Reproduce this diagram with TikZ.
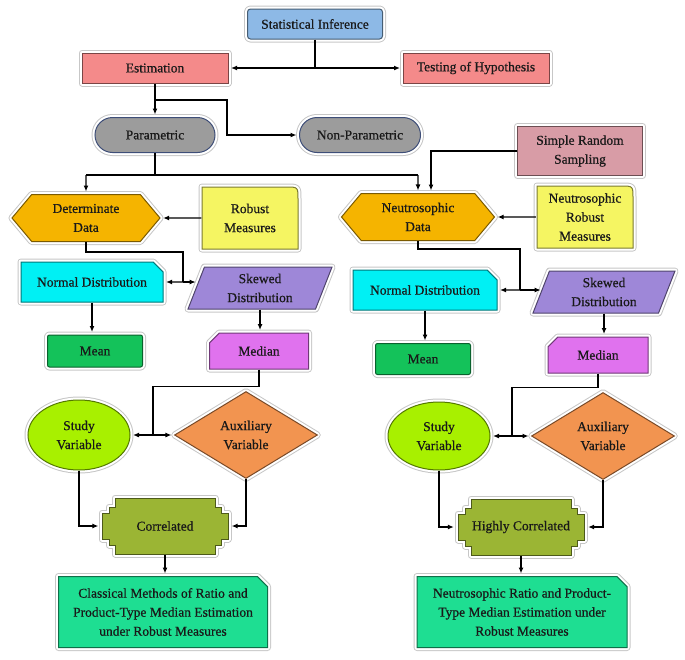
\documentclass[tikz,border=0pt]{standalone}
\usepackage{fontspec}
\setmainfont{Liberation Serif}
\newfontfamily\boxfont[FakeBold=0.6]{Liberation Serif}
\usetikzlibrary{arrows.meta,shapes.geometric,shapes.misc,shapes.symbols,backgrounds}

\definecolor{statblue}{HTML}{8DB9E6}
\definecolor{estred}{HTML}{F48A8A}
\definecolor{paramgray}{HTML}{9C9C9C}
\definecolor{srspink}{HTML}{D89CA6}
\definecolor{dataorange}{HTML}{F5B400}
\definecolor{robyellow}{HTML}{F5F562}
\definecolor{normcyan}{HTML}{00F0F4}
\definecolor{skewpurple}{HTML}{9E87D8}
\definecolor{meangreen}{HTML}{14C25A}
\definecolor{medmagenta}{HTML}{E072EE}
\definecolor{studylime}{HTML}{A8F000}
\definecolor{auxorange}{HTML}{F29450}
\definecolor{corrolive}{HTML}{9BB534}
\definecolor{endteal}{HTML}{1EDE92}
\definecolor{slateline}{HTML}{3E4E78}

\begin{document}
\begin{tikzpicture}[x=1pt,y=-1pt,>={Latex[length=6pt,width=5pt]},line width=1.3pt,
    every node/.style={font=\boxfont\fontsize{13.5}{19}\selectfont,align=center,text=black!90},
    halo/.style={preaction={draw=black!22,line width=7pt,line join=round},
                 preaction={draw=white,line width=5pt,line join=round}},
    box/.style={halo,draw=#1!50!black,fill=#1,line width=1pt,minimum height=30pt,inner sep=2pt},
    snip/.style={box=#1,chamfered rectangle,chamfered rectangle angle=45,chamfered rectangle xsep=7pt},
    hexa/.style={box=dataorange,signal,signal to=west and east,signal pointer angle=100,
                 minimum height=47pt,inner sep=1pt},
    slant/.style={box=skewpurple,trapezium,trapezium left angle=60,trapezium right angle=120,
                  trapezium stretches body,minimum height=42pt,inner sep=0pt},
    stadium/.style={box=paramgray,draw=slateline,rounded rectangle,minimum height=35pt},
    plain/.style={inner sep=0pt},
    link/.style={->,shorten >=2.5pt}]

    \path[use as bounding box] (0,0) rectangle (685,659);

    % top part
    \node[box=statblue,rounded corners=3pt,minimum width=135pt] (stat) at (315,24) {Statistical Inference};
    \node[box=estred,minimum width=146pt] (est) at (155,68) {Estimation};
    \node[box=estred,minimum width=146pt] (test) at (476,68) {Testing of Hypothesis};
    \node[stadium,minimum width=124pt] (param) at (155,135) {Parametric};
    \node[stadium,minimum width=125pt] (nonparam) at (360,135) {Non-Parametric};
    \node[box=srspink,minimum width=125pt,minimum height=49pt] (srs) at (580,151) {Simple Random\\Sampling};

    % left branch
    \node[hexa,minimum width=148pt] (detdata) at (86,218) {Determinate\\Data};
    \node[plain,minimum width=96pt,minimum height=62pt] (rob) at (250,218) {Robust\\Measures};
    \node[snip=normcyan,chamfered rectangle corners=north east,minimum width=142pt,minimum height=40pt] (normL) at (92,282) {Normal Distribution};
    \node[slant,minimum width=144pt] (skewL) at (260,288) {Skewed\\Distribution};
    \node[box=meangreen,rounded corners=2pt,minimum width=95pt,minimum height=32pt] (meanL) at (95,351) {Mean};
    \node[snip=medmagenta,chamfered rectangle corners=north west,minimum width=99pt,minimum height=36pt] (medL) at (259,351) {Median};
    \node[box=studylime,ellipse,minimum width=102pt,minimum height=70pt] (studyL) at (79,435) {Study\\Variable};
    \node[box=auxorange,diamond,minimum width=143pt,minimum height=87pt,inner sep=0pt] (auxL) at (246,435) {Auxiliary\\Variable};
    \node[plain,minimum width=127pt,minimum height=56pt] (corrL) at (165,526) {Correlated};
    \node[snip=endteal,chamfered rectangle corners=north east,minimum width=209pt,minimum height=71pt] (classL) at (163,612)
        {Classical Methods of Ratio and\\Product-Type Median Estimation\\under Robust Measures};

    % right branch
    \node[hexa,minimum width=153pt] (ndata) at (418,217) {Neutrosophic\\Data};
    \node[plain,minimum width=97pt,minimum height=61pt] (nrob) at (585,217) {Neutrosophic\\Robust\\Measures};
    \node[snip=normcyan,chamfered rectangle corners=north east,minimum width=144pt,minimum height=40pt] (normR) at (425,290) {Normal Distribution};
    \node[slant,minimum width=142pt] (skewR) at (604,292) {Skewed\\Distribution};
    \node[box=meangreen,rounded corners=2pt,minimum width=95pt,minimum height=31pt] (meanR) at (423,359) {Mean};
    \node[snip=medmagenta,chamfered rectangle corners=north west,minimum width=100pt,minimum height=36pt] (medR) at (598,355) {Median};
    \node[box=studylime,ellipse,minimum width=102pt,minimum height=68pt] (studyR) at (439,436) {Study\\Variable};
    \node[box=auxorange,diamond,minimum width=143pt,minimum height=87pt,inner sep=0pt] (auxR) at (603,436) {Auxiliary\\Variable};
    \node[plain,minimum width=128pt,minimum height=57pt] (corrR) at (521,527) {Highly Correlated};
    \node[snip=endteal,chamfered rectangle corners=north east,minimum width=210pt,minimum height=71pt] (neutR) at (522,612)
        {Neutrosophic Ratio and Product-\\Type Median Estimation under\\Robust Measures};

    % shapes behind the plain nodes
    \begin{scope}[on background layer]
        \foreach \n in {rob,nrob}{
            \begin{scope}[shift={(\n.center)}]
                \draw[box=robyellow] (-48,31) -- (-48,-31) -- (36,-31) .. controls (48,-31) .. (48,-19) -- (48,31) -- cycle;
            \end{scope}
        }
        \foreach \n in {corrL,corrR}{
            \begin{scope}[shift={(\n.center)}]
                \draw[box=corrolive] (-50,-28) -- (50,-28) -- (50,-19) -- (56,-19) -- (56,-13) -- (63,-13)
                    -- (63,13) -- (56,13) -- (56,19) -- (50,19) -- (50,28) -- (-50,28) -- (-50,19) -- (-56,19)
                    -- (-56,13) -- (-63,13) -- (-63,-13) -- (-56,-13) -- (-56,-19) -- (-50,-19) -- cycle;
            \end{scope}
        }
    \end{scope}

    % connectors, top
    \coordinate (j1) at (stat |- est);
    \coordinate (j2) at (155,100);
    \coordinate (b1) at (227,100);
    \coordinate (j3) at (155,175);
    \draw (stat) -- (j1);
    \draw[link] (j1) -- (est);
    \draw[link] (j1) -- (test);
    \draw[link] (est) -- (param);
    \draw[link] (j2) -- (b1) |- (nonparam);
    \draw (param) -- (j3);
    \draw (detdata |- j3) -- (ndata |- j3);
    \draw[link] (detdata |- j3) -- (detdata);
    \draw[link] (ndata |- j3) -- (ndata);
    \draw[link] (srs) -| ([xshift=13pt]ndata.north);

    % connectors, left
    \coordinate (j4) at (183,282);
    \coordinate (j5) at (153,435);
    \draw[link] (rob) -- (detdata);
    \draw (detdata.south) -- ++(0,10) -| (j4);
    \draw[link] (j4) -- (normL);
    \draw[->] (j4) -- (j4 -| skewL.west);
    \draw[link] (normL.south) -- (normL.south |- meanL.north);
    \draw[link] (skewL.south) -- (skewL.south |- medL.north);
    \draw (medL.south) -- ++(0,17) -| (j5);
    \draw[link] (j5) -- (studyL);
    \draw[link] (j5) -- (auxL);
    \draw[link] (studyL) |- (corrL);
    \draw[link] (auxL) |- (corrL);
    \draw[link] (corrL.south) -- (corrL.south |- classL.north);

    % connectors, right
    \coordinate (j6) at (520,290);
    \coordinate (j7) at (512,436);
    \draw[link] (nrob) -- (ndata);
    \draw (ndata.south) -- ++(0,8) -| (j6);
    \draw[link] (j6) -- (normR);
    \draw[->] (j6) -- (j6 -| skewR.west);
    \draw[link] (normR.south) -- (normR.south |- meanR.north);
    \draw[link] (skewR.south) -- (skewR.south |- medR.north);
    \draw (medR.south) -- ++(0,14) -| (j7);
    \draw[link] (j7) -- (studyR);
    \draw[link] (j7) -- (auxR);
    \draw[link] (studyR) |- (corrR);
    \draw[link] (auxR) |- (corrR);
    \draw[link] (corrR.south) -- (corrR.south |- neutR.north);

\end{tikzpicture}
\end{document}
